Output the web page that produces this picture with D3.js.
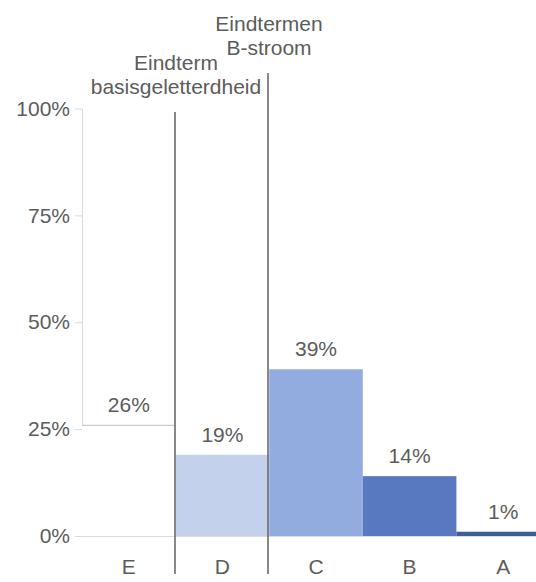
<!DOCTYPE html>
<html>
<head>
<meta charset="utf-8">
<script src="https://cdn.jsdelivr.net/npm/d3@7"></script>
<style>
  body { margin: 0; background: #fff; }
  text { font-family: "Liberation Sans", Arial, sans-serif; }
</style>
</head>
<body>
<div id="chart"></div>
<script>
// chart data
const categories = ['E', 'D', 'C', 'B', 'A'];
const values = [26, 19, 39, 14, 1];
const barColors = ['#ffffff', '#c3d1ec', '#93ace0', '#5878bf', '#3f5d99'];
const yTicks = [0, 25, 50, 75, 100];
const headers = [
  {at: 'D', lines: ['Eindterm', 'basisgeletterdheid'], top: 70},
  {at: 'C', lines: ['Eindtermen', 'B-stroom'], top: 31}
];

const width = 536, height = 582;
const textColor = '#5c5c5c';
const fontSize = '21px';

const svg = d3.select('#chart')
  .append('svg')
    .attr('width', width)
    .attr('height', height);

const xScale = d3.scaleBand()
  .domain(categories)
  .range([82, 550])
  .padding(0);

const yScale = d3.scaleLinear()
  .domain([0, 100])
  .range([536, 108.5]);

// y axis
const yAxis = svg.append('g')
  .attr('transform', `translate(${xScale.range()[0]},0)`)
  .call(d3.axisLeft(yScale)
    .tickValues(yTicks)
    .tickFormat(d => d + '%')
    .tickSize(7)
    .tickPadding(5)
    .tickSizeOuter(0));
yAxis.select('.domain').attr('stroke', '#dadada');
yAxis.selectAll('.tick line').attr('stroke', '#dadada');
yAxis.selectAll('.tick text')
  .attr('fill', textColor)
  .style('font-size', fontSize);

// bars
const data = categories.map((c, i) => ({cat: c, value: values[i], color: barColors[i]}));

svg.selectAll('rect.bar')
  .data(data)
  .enter().append('rect')
    .attr('class', 'bar')
    .attr('x', d => xScale(d.cat))
    .attr('y', d => yScale(d.value))
    .attr('width', xScale.bandwidth())
    .attr('height', d => yScale(0) - yScale(d.value))
    .attr('fill', d => d.color);

// the white bar gets only a thin top edge
svg.selectAll('line.bartop')
  .data(data.filter(d => d.color === '#ffffff'))
  .enter().append('line')
    .attr('class', 'bartop')
    .attr('x1', d => xScale(d.cat))
    .attr('x2', d => xScale(d.cat) + xScale.bandwidth())
    .attr('y1', d => yScale(d.value) + 0.5)
    .attr('y2', d => yScale(d.value) + 0.5)
    .attr('stroke', '#c8ccd2')
    .attr('stroke-width', 1.2);

// baseline
svg.append('line')
  .attr('x1', xScale.range()[0])
  .attr('x2', width)
  .attr('y1', yScale(0) + 0.5)
  .attr('y2', yScale(0) + 0.5)
  .attr('stroke', '#dcdcdc');

// value labels
svg.selectAll('text.value')
  .data(data)
  .enter().append('text')
    .attr('class', 'value')
    .attr('x', d => xScale(d.cat) + xScale.bandwidth() / 2)
    .attr('y', d => yScale(d.value) - 13)
    .attr('text-anchor', 'middle')
    .attr('fill', textColor)
    .style('font-size', fontSize)
    .text(d => d.value + '%');

// category labels
svg.selectAll('text.cat')
  .data(categories)
  .enter().append('text')
    .attr('class', 'cat')
    .attr('x', d => xScale(d) + xScale.bandwidth() / 2)
    .attr('y', 574)
    .attr('text-anchor', 'middle')
    .attr('fill', textColor)
    .style('font-size', fontSize)
    .text(d => d);

// divider lines and their headers
headers.forEach(h => {
  const x = Math.round(xScale(h.at)) - 1;
  svg.append('line')
    .attr('x1', x).attr('x2', x)
    .attr('y1', h.top + 42)
    .attr('y2', 574)
    .attr('stroke', '#6b6b6b')
    .attr('stroke-width', 1.6);

  const t = svg.append('text')
    .attr('text-anchor', 'middle')
    .attr('fill', textColor)
    .style('font-size', fontSize);
  h.lines.forEach((line, i) => {
    t.append('tspan')
      .attr('x', x + 1)
      .attr('y', h.top + i * 24)
      .text(line);
  });
});
</script>
</body>
</html>
